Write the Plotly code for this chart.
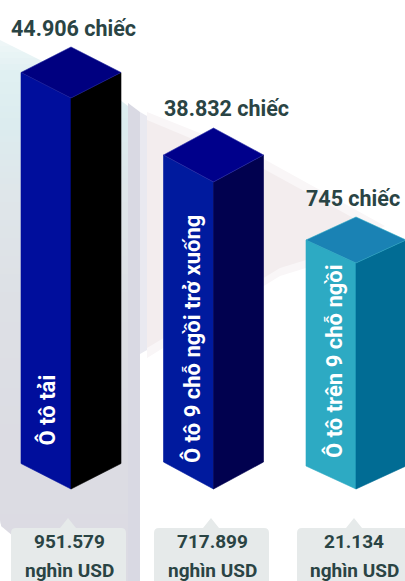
import plotly.graph_objects as go

# Vehicle import figures
categories = ["Ô tô tải", "Ô tô 9 chỗ ngồi trở xuống", "Ô tô trên 9 chỗ ngồi"]
quantity_labels = ["44.906 chiếc", "38.832 chiếc", "745 chiếc"]
value_labels = ["951.579", "717.899", "21.134"]
value_unit = "nghìn USD"
# Pictorial column heights: the infographic does not draw these to a linear scale
column_heights = [391, 307, 226]

W, H = 405, 581
FONT = "Roboto"
INK = "#2a4444"
BASELINE = 489
HALF_WIDTH = 50
centers = [71, 213.5, 356]
cap_depths = [25.5, 27, 23]
front_colors = ["#000e9c", "#001a9e", "#2daac3"]
side_colors = ["#000000", "#01014f", "#016c94"]
cap_colors = ["#000080", "#00008b", "#1a82b4"]
edge_colors = ["#1a1f9a", "#2a2fa8", "#2daac3"]


def lerp_hex(a, b, t):
    ca = [int(a[i:i + 2], 16) for i in (1, 3, 5)]
    cb = [int(b[i:i + 2], 16) for i in (1, 3, 5)]
    return "#" + "".join(f"{round(p + (q - p) * t):02x}" for p, q in zip(ca, cb))


def ramp(stops, y):
    for (y0, c0), (y1, c1) in zip(stops, stops[1:]):
        if y <= y1:
            return lerp_hex(c0, c1, (y - y0) / (y1 - y0))
    return stops[-1][1]


shapes = []


def poly(points, fill):
    path = "M" + " L".join(f"{x},{y}" for x, y in points) + " Z"
    shapes.append(dict(type="path", path=path, fillcolor=fill, line_width=0, layer="below"))


# Washed-out backdrop: a vertical ramp on the left, a pale pink wedge to the right
band_stops = [(40, "#eef6f7"), (70, "#e0f0f2"), (120, "#dcecef"), (190, "#dfe6ea"), (300, "#dde0e5"), (440, "#dcdce3"), (581, "#dcdbe3")]
STEP = 6
FEATHER = [(14, 0.35), (7, 0.5), (0, 1.0)]


def band_right(y, inset):
    return max(0.0, min(128.0, (y - 40 - inset) * 2.0))


def band_left(y):
    return 0 if y <= 525 else min(128.0, (y - 525) * 1.2)


for inset, strength in FEATHER:
    for y in range(40, 581, STEP):
        y2 = min(y + STEP, 581)
        poly([(band_left(y), y), (band_right(y, inset), y), (band_right(y2, inset), y2), (band_left(y2), y2)],
             lerp_hex("#ffffff", ramp(band_stops, y), strength))

poly([(128, 103), (140, 112), (140, 581), (128, 581)], "#d9d9e3")
poly([(140, 112), (147, 116), (147, 350), (140, 354)], "#e9e9f0")
poly([(147, 112), (262, 158), (385, 226), (306, 268), (280, 276), (147, 358)], "#f9f6f7")
poly([(147, 120), (262, 168), (368, 226), (306, 260), (280, 268), (147, 348)], "#f3edee")


def callout_path(cx, left, right, top=528, tip=518, r=5):
    return (f"M{left + r},{top} L{cx - 8},{top} L{cx},{tip} L{cx + 8},{top} L{right - r},{top} "
            f"Q{right},{top} {right},{top + r} L{right},{H + 5} L{left},{H + 5} "
            f"L{left},{top + r} Q{left},{top} {left + r},{top} Z")


callouts = [(68, 11, 126), (211, 154, 269), (354, 297, 412)]
for cx, l, r in callouts:
    shapes.append(dict(type="path", path=callout_path(cx, l, r), fillcolor="#e6eaea", line_width=0, layer="below"))

fig = go.Figure()


def face(xs, ys, fill, edge, name):
    fig.add_trace(go.Scatter(x=xs, y=ys, mode="lines", fill="toself", fillcolor=fill,
                             line=dict(color=edge, width=0.6), hoverinfo="skip", name=name, showlegend=False))


for i, name in enumerate(categories):
    cx, d, h = centers[i], cap_depths[i], column_heights[i]
    l, r = cx - HALF_WIDTH, cx + HALF_WIDTH
    top = BASELINE - h
    edge = edge_colors[i]
    face([l, cx, cx, l, l], [top - d, top, BASELINE, BASELINE - d, top - d], front_colors[i], front_colors[i], name)
    face([cx, r, r, cx, cx], [top, top - d, BASELINE - d, BASELINE, top], side_colors[i], side_colors[i], name)
    face([l, cx, r, cx, l], [top - d, top - 2 * d, top - d, top, top - d], cap_colors[i], edge, name)

annotations = []


def note(x, y, text, size, color=INK, xanchor="center", yanchor="middle", angle=0):
    annotations.append(dict(x=x, y=y, xref="x", yref="y", text=f"<b>{text}</b>", showarrow=False,
                            xanchor=xanchor, yanchor=yanchor, textangle=angle,
                            font=dict(family=FONT, size=size, color=color),
                            borderpad=0, borderwidth=0))


for x, y, t in zip([11, 164, 306], [28, 108, 198], quantity_labels):
    note(x, y, t, 21.5, xanchor="left")
for x, y, t in zip([46, 192, 334], [446, 463, 458], categories):
    note(x, y, t, 22, color="#ffffff", yanchor="bottom", angle=-90)
for cx, t in zip([69, 212, 354], value_labels):
    note(cx, 541, t, 19)
    note(cx, 570, value_unit, 19)

fig.update_layout(
    width=W, height=H, margin=dict(l=0, r=0, t=0, b=0),
    paper_bgcolor="#ffffff", plot_bgcolor="#ffffff",
    xaxis=dict(range=[0, W], visible=False, fixedrange=True),
    yaxis=dict(range=[H, 0], visible=False, fixedrange=True),
    shapes=shapes, annotations=annotations, showlegend=False,
)
fig.write_html("out.html", config=dict(displayModeBar=False))
